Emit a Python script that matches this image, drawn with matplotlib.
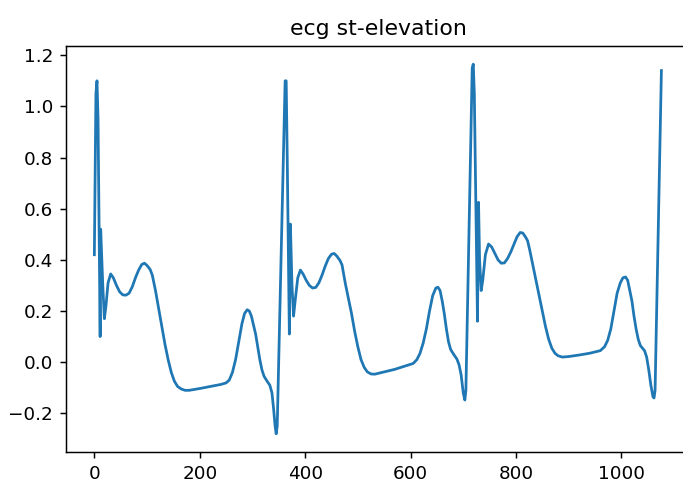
import matplotlib
matplotlib.use("Agg")
import matplotlib.pyplot as plt

# ecg samples (sample index, amplitude)
sample_idx = [
    0, 3, 5, 7, 11, 12, 16, 19, 22, 26, 31, 36, 42, 48, 54, 60, 66, 72, 78, 84,
    90, 95, 100, 106, 110, 116, 122, 128, 134, 140, 146, 152, 158, 165, 172, 180,
    200, 220, 240, 250, 256, 262, 268, 274, 280, 285, 290, 294, 298, 302, 306,
    310, 314, 318, 322, 328, 333, 337, 340, 343, 345, 347, 362, 364,
    366, 370, 372, 375, 378, 381, 386, 391, 396, 402, 408, 414, 420, 426, 432,
    438, 444, 450, 455, 460, 466, 470, 476, 482, 488, 494, 500, 506, 512, 518,
    525, 532, 550, 570, 590, 605, 612, 618, 624, 630, 636, 642, 648, 652, 656,
    660, 664, 668, 672, 676, 682, 688, 692, 696, 700, 703, 705, 717,
    719, 721, 727, 729, 731, 734, 737, 742, 748, 754, 760, 766, 772, 778, 784,
    790, 796, 802, 808, 813, 818, 822, 826, 832, 838, 844, 850, 856, 862, 868,
    874, 880, 888, 900, 920, 940, 960, 968, 974, 980, 986, 992, 998, 1003, 1008,
    1012, 1016, 1020, 1024, 1028, 1032, 1036, 1040, 1044, 1048, 1052, 1056, 1060,
    1062, 1064, 1076,
]
amplitude = [
    0.42, 1.05, 1.10, 0.95, 0.10, 0.52, 0.30, 0.17, 0.22, 0.31, 0.345, 0.33,
    0.30, 0.275, 0.263, 0.262, 0.27, 0.295, 0.33, 0.36, 0.382, 0.387, 0.378,
    0.362, 0.34, 0.28, 0.21, 0.14, 0.07, 0.01, -0.04, -0.075, -0.095, -0.105,
    -0.11, -0.11, -0.103, -0.095, -0.087, -0.081, -0.07, -0.04, 0.01, 0.08, 0.15,
    0.19, 0.205, 0.20, 0.18, 0.145, 0.11, 0.06, 0.01, -0.03, -0.055, -0.075,
    -0.09, -0.12, -0.18, -0.25, -0.28, -0.25, 1.10, 1.10, 0.80, 0.11,
    0.54, 0.30, 0.18, 0.24, 0.33, 0.36, 0.345, 0.32, 0.30, 0.29, 0.292, 0.31,
    0.34, 0.375, 0.405, 0.422, 0.425, 0.415, 0.398, 0.38, 0.31, 0.25, 0.19, 0.12,
    0.06, 0.01, -0.02, -0.038, -0.046, -0.047, -0.038, -0.028, -0.015, -0.005,
    0.01, 0.035, 0.075, 0.13, 0.20, 0.26, 0.29, 0.293, 0.28, 0.24, 0.19, 0.13,
    0.08, 0.05, 0.03, 0.012, -0.01, -0.05, -0.12, -0.148, -0.11,
    1.15, 1.165, 1.05, 0.16, 0.625, 0.40, 0.28, 0.32, 0.42, 0.462, 0.45, 0.425,
    0.40, 0.387, 0.388, 0.405, 0.43, 0.46, 0.49, 0.507, 0.505, 0.49, 0.475,
    0.44, 0.38, 0.32, 0.26, 0.20, 0.14, 0.09, 0.055, 0.035, 0.025, 0.02, 0.022,
    0.028, 0.035, 0.045, 0.06, 0.085, 0.13, 0.20, 0.27, 0.31, 0.33, 0.333, 0.32,
    0.28, 0.24, 0.18, 0.13, 0.09, 0.065, 0.055, 0.045, 0.02, -0.03, -0.09,
    -0.135, -0.14, -0.11, 1.14,
]

W, H, dpi = 683, 481, 132
fig = plt.figure(figsize=(W / dpi, H / dpi), dpi=dpi)

# the screenshot is cropped: the axes box ends just past the right edge
left_px, right_px = 66, 691
ax = fig.add_axes([left_px / W, 0.0597, (right_px - left_px) / W, 0.8453])
ax.plot(sample_idx, amplitude, color="#1f77b4", linewidth=1.5)

# same x scale as a normal 5% margin plot (0.527 px per sample)
px_per_sample = 0.527
x0 = -53.8
ax.set_xlim(x0, x0 + (right_px - left_px) / px_per_sample)
ax.spines["right"].set_visible(False)  # cut off in the reference

ax.set_title("ecg st-elevation")
ax.set_yticks([-0.2, 0.0, 0.2, 0.4, 0.6, 0.8, 1.0, 1.2])
ax.set_xticks([0, 200, 400, 600, 800, 1000])

fig.savefig("out.png", dpi=dpi)
